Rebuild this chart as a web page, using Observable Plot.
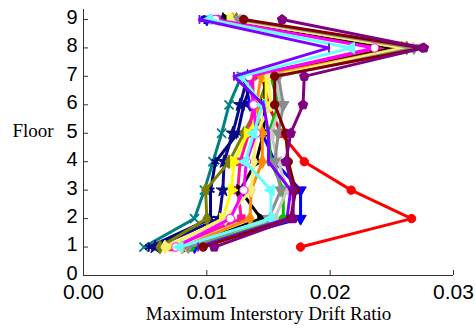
<!DOCTYPE html>
<html><head><meta charset="utf-8">
<script src="https://cdn.jsdelivr.net/npm/d3@7"></script>
<script src="https://cdn.jsdelivr.net/npm/@observablehq/plot@0.6"></script>
<style>body{margin:0;background:#fff}</style>
</head><body><div id="chart"></div>
<script>
const floors = [1,2,3,4,5,6,7,8,9];
const xTicks = [0, 0.01, 0.02, 0.03];
const yTicks = [0,1,2,3,4,5,6,7,8,9];

const red      = [0.0176, 0.0266, 0.0217, 0.0179, 0.0160, 0.0150, 0.0145, 0.0262, 0.0122];
const teal     = [0.0049, 0.0090, 0.0098, 0.0105, 0.0112, 0.0118, 0.0128, 0.0252, 0.0106];
const navy     = [0.0053, 0.0103, 0.0103, 0.0107, 0.0125, 0.0130, 0.0138, 0.0250, 0.0098];
const starBlue = [0.0058, 0.0110, 0.0113, 0.0114, 0.0121, 0.0127, 0.0133, 0.0243, 0.0113];
const olive    = [0.0062, 0.0100, 0.0099, 0.0118, 0.0130, 0.0142, 0.0150, 0.0262, 0.0124];
const yellow   = [0.0068, 0.0113, 0.0120, 0.0122, 0.0133, 0.0148, 0.0148, 0.0262, 0.0119];
const deepPink = [0.0072, 0.0128, 0.0125, 0.0127, 0.0134, 0.0138, 0.0137, 0.0241, 0.0108];
const magenta  = [0.0075, 0.0119, 0.0130, 0.0132, 0.0140, 0.0138, 0.0134, 0.0236, 0.0107];
const black    = [0.0083, 0.0144, 0.0127, 0.0140, 0.0146, 0.0147, 0.0147, 0.0252, 0.0116];
const orange   = [0.0080, 0.0135, 0.0136, 0.0145, 0.0145, 0.0140, 0.0144, 0.0258, 0.0121];
const khaki    = [0.0066, 0.0115, 0.0136, 0.0138, 0.0140, 0.0152, 0.0150, 0.0260, 0.0120];
const silver   = [0.0082, 0.0155, 0.0165, 0.0158, 0.0152, 0.0160, 0.0155, 0.0265, 0.0125];
const green    = [0.0087, 0.0162, 0.0162, 0.0152, 0.0150, 0.0158, 0.0152, 0.0248, 0.0129];
const blue     = [0.0090, 0.0176, 0.0176, 0.0155, 0.0145, 0.0135, 0.0130, 0.0255, 0.0100];
const gray     = [0.0085, 0.0150, 0.0160, 0.0155, 0.0158, 0.0162, 0.0158, 0.0268, 0.0126];
const cyan     = [0.0078, 0.0152, 0.0152, 0.0131, 0.0138, 0.0145, 0.0128, 0.0217, 0.0102];
const violet   = [0.0093, 0.0165, 0.0168, 0.0150, 0.0150, 0.0146, 0.0122, 0.0199, 0.0094];
const maroon   = [0.0097, 0.0168, 0.0172, 0.0166, 0.0164, 0.0155, 0.0155, 0.0275, 0.0130];
const purple   = [0.0106, 0.0170, 0.0170, 0.0164, 0.0168, 0.0178, 0.0179, 0.0276, 0.0161];

// custom marker shapes
function tri(angle){
  return {draw(ctx, size){
    const r = Math.sqrt(size / 1.3);
    for (let i = 0; i < 3; i++) {
      const a = angle + i * 2 * Math.PI / 3;
      const px = r * Math.cos(a), py = r * Math.sin(a);
      i ? ctx.lineTo(px, py) : ctx.moveTo(px, py);
    }
    ctx.closePath();
  }};
}
const triDown = tri(Math.PI/2), triLeft = tri(Math.PI), triRight = tri(0);
const pentagon = {draw(ctx, size){
  const r = Math.sqrt(size / 2.2);
  for (let i = 0; i < 5; i++) {
    const a = -Math.PI/2 + i * 2 * Math.PI / 5;
    i ? ctx.lineTo(r*Math.cos(a), r*Math.sin(a)) : ctx.moveTo(r*Math.cos(a), r*Math.sin(a));
  }
  ctx.closePath();
}};
const vbar = {draw(ctx, size){ const r = Math.sqrt(size) * 0.6; ctx.moveTo(0,-r); ctx.lineTo(0,r); }};

// [values, color, symbol, filled, markerFill]
const series = [
  [red, "#ff0000", "circle", true],
  [blue, "#0000ff", triDown, true],
  [green, "#00c000", "circle", true],
  [teal, "#008080", "times", false],
  [navy, "#000080", "asterisk", false],
  [starBlue, "#0b0b8a", "star", true],
  [olive, "#808000", "diamond", true],
  [deepPink, "#ff1493", "square", true],
  [black, "#000000", triRight, true],
  [silver, "#c8c8c8", triLeft, true],
  [yellow, "#ffff00", triRight, true],
  [orange, "#ff8c00", "diamond", true],
  [khaki, "#f5f07a", "diamond", true],
  [gray, "#8c8c8c", triDown, true],
  [magenta, "#ff00ff", "circle", true, "#ffffff"],
  [cyan, "#66ffff", triLeft, true],
  [violet, "#8000ff", vbar, false],
  [maroon, "#800000", "circle", true],
  [purple, "#800080", pentagon, true]
];

const marks = [];
for (const [vals, color, sym, filled, mfill] of series) {
  const d = floors.map((f, i) => ({floor: f, v: vals[i]}));
  marks.push(Plot.line(d, {x: "v", y: "floor", stroke: color, strokeWidth: 3, curve: "linear"}));
  marks.push(Plot.dot(d, {
    x: "v", y: "floor", symbol: () => sym, r: 4.2,
    fill: filled ? (mfill || color) : "none",
    stroke: color, strokeWidth: filled ? 1 : 1.8
  }));
}

const chart = Plot.plot({
  width: 475, height: 333,
  marginLeft: 83, marginRight: 22, marginTop: 9, marginBottom: 58,
  style: {fontFamily: "'Liberation Sans', Arial, sans-serif", background: "#fff"},
  x: {domain: [0, 0.03], axis: null},
  y: {domain: [0, 9.35], axis: null},
  symbol: {type: "identity"},
  marks: [
    ...marks,
    Plot.ruleX([0], {stroke: "#333", strokeWidth: 1}),
    Plot.ruleY([0], {stroke: "#333", strokeWidth: 1}),
    Plot.axisX(xTicks, {tickSize: -5, tickFormat: () => "", stroke: "#333", label: null}),
    Plot.axisX(xTicks, {tickSize: 0, tickPadding: 9, tickFormat: d3.format(".2f"), fontSize: 21, fill: "#000", label: null}),
    Plot.axisY(yTicks, {tickSize: -5, tickFormat: () => "", stroke: "#333", label: null}),
    Plot.axisY(yTicks, {tickSize: 0, tickPadding: 6, tickFormat: d => String(d), fontSize: 20, dy: -2, fill: "#000", label: null}),
    Plot.text(["Maximum Interstory Drift Ratio"], {frameAnchor: "bottom", dy: 44, fontSize: 19, fontFamily: "'Liberation Serif', 'Times New Roman', serif", fill: "#000"}),
    Plot.text(["Floor"], {frameAnchor: "left", dx: -71, dy: -12, textAnchor: "start", fontSize: 19, fontFamily: "'Liberation Serif', 'Times New Roman', serif", fill: "#000"})
  ]
});
document.getElementById("chart").appendChild(chart);
</script>
</body></html>
